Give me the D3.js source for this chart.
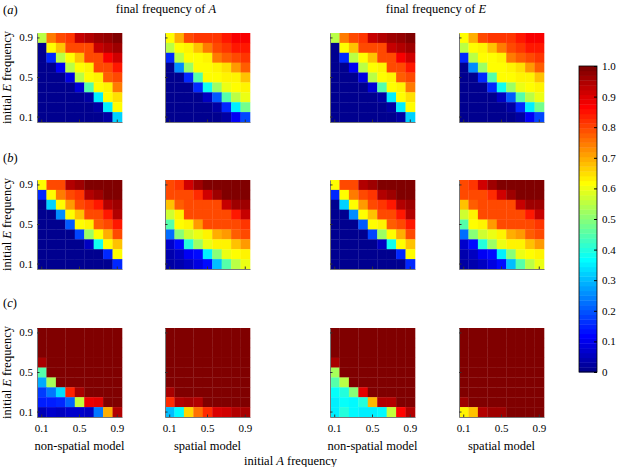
<!DOCTYPE html>
<html><head><meta charset="utf-8">
<script src="https://cdn.jsdelivr.net/npm/d3@7"></script>
<style>
body{margin:0;background:#fff}
svg{display:block}
text{font-family:"Liberation Serif","Times New Roman",serif;fill:#000}
</style>
</head><body>
<svg id="chart" width="626" height="467"></svg>
<script>
// ---------- data ----------
const freqs = ["0.1","0.2","0.3","0.4","0.5","0.6","0.7","0.8","0.9"];   // A (x) and E (y)
const tickLabels = ["0.1","0.5","0.9"];
const rowLetters = ["a","b","c"];
const columnTitles = ["non-spatial model","spatial model","non-spatial model","spatial model"];
const colorbarTicks = ["0","0.1","0.2","0.3","0.4","0.5","0.6","0.7","0.8","0.9","1.0"];

// each panel: rows from E = 0.9 (top) to E = 0.1 (bottom), columns A = 0.1 .. 0.9
const a1 = [
 [.55,.75,.80,.82,.93,.95,.97,.98,1],
 [0,.62,.68,.80,.80,.80,.93,.95,.97],
 [0,.15,.55,.62,.68,.80,.80,.88,.92],
 [0,0,.10,.55,.62,.63,.80,.80,.85],
 [0,0,0,.08,.55,.62,.63,.78,.80],
 [0,0,0,0,.07,.45,.62,.63,.75],
 [0,0,0,0,0,.02,.35,.62,.65],
 [0,0,0,0,0,0,.02,.35,.62],
 [0,0,0,0,0,0,0,.02,.32]];
const a2 = [
 [.62,.70,.80,.82,.82,.82,.85,.88,.88],
 [.55,.62,.63,.68,.75,.80,.82,.85,.85],
 [.15,.55,.62,.62,.63,.75,.78,.80,.82],
 [0,.25,.52,.62,.62,.63,.65,.72,.78],
 [0,0,.15,.45,.62,.62,.63,.63,.68],
 [0,0,0,.15,.38,.52,.60,.62,.63],
 [0,0,0,0,.05,.20,.45,.55,.60],
 [0,0,0,0,0,.02,.15,.35,.48],
 [0,0,0,0,0,0,.02,.10,.18]];
const a3 = [
 [.55,.75,.80,.82,.93,.95,.97,.98,1],
 [0,.62,.68,.80,.80,.80,.93,.95,.97],
 [0,.15,.55,.62,.68,.80,.80,.88,.92],
 [0,0,.10,.55,.62,.63,.80,.80,.85],
 [0,0,0,.08,.55,.62,.63,.78,.80],
 [0,0,0,0,.07,.45,.62,.63,.75],
 [0,0,0,0,0,.02,.35,.62,.65],
 [0,0,0,0,0,0,.02,.35,.62],
 [0,0,0,0,0,0,0,.02,.32]];
const a4 = [
 [.62,.70,.80,.82,.82,.82,.85,.88,.88],
 [.55,.62,.63,.68,.75,.80,.82,.85,.85],
 [.15,.55,.62,.62,.63,.75,.78,.80,.82],
 [0,.25,.52,.62,.62,.63,.65,.72,.78],
 [0,0,.15,.45,.62,.62,.63,.63,.68],
 [0,0,0,.15,.38,.52,.60,.62,.63],
 [0,0,0,0,.05,.20,.45,.55,.60],
 [0,0,0,0,0,.02,.15,.35,.48],
 [0,0,0,0,0,0,.02,.10,.18]];
const b1 = [
 [.62,.80,.80,.95,.97,1,1,1,1],
 [.15,.62,.75,.80,.82,.95,.97,1,1],
 [0,.32,.62,.72,.80,.82,.85,.95,.97],
 [0,0,.25,.62,.68,.80,.80,.85,.95],
 [0,0,0,.20,.62,.63,.78,.80,.85],
 [0,0,0,0,.18,.52,.62,.70,.80],
 [0,0,0,0,0,.05,.38,.62,.68],
 [0,0,0,0,0,0,0,.15,.62],
 [0,0,0,0,0,0,0,0,.15]];
const b2 = [
 [.80,.82,.92,.97,1,1,1,1,1],
 [.80,.80,.80,.83,.92,.97,1,1,1],
 [.68,.78,.80,.80,.80,.80,.93,.97,.97],
 [.57,.63,.80,.80,.80,.80,.80,.85,.93],
 [.45,.62,.63,.72,.80,.80,.80,.80,.82],
 [.22,.50,.57,.60,.63,.70,.72,.78,.80],
 [.06,.12,.40,.52,.60,.63,.63,.68,.72],
 [.03,.05,.10,.12,.35,.50,.60,.62,.63],
 [.02,.03,.05,.08,.12,.30,.45,.55,.60]];
const b3 = [
 [.62,.80,.80,.95,.97,1,1,1,1],
 [.15,.62,.75,.80,.82,.95,.97,1,1],
 [0,.32,.62,.72,.80,.82,.85,.95,.97],
 [0,0,.25,.62,.68,.80,.80,.85,.95],
 [0,0,0,.20,.62,.63,.78,.80,.85],
 [0,0,0,0,.18,.52,.62,.70,.80],
 [0,0,0,0,0,.05,.38,.62,.68],
 [0,0,0,0,0,0,0,.15,.62],
 [0,0,0,0,0,0,0,0,.15]];
const b4 = [
 [.80,.82,.92,.97,1,1,1,1,1],
 [.80,.80,.80,.83,.92,.97,1,1,1],
 [.68,.78,.80,.80,.80,.80,.93,.97,.97],
 [.57,.63,.80,.80,.80,.80,.80,.85,.93],
 [.45,.62,.63,.72,.80,.80,.80,.80,.82],
 [.22,.50,.57,.60,.63,.70,.72,.78,.80],
 [.06,.12,.40,.52,.60,.63,.63,.68,.72],
 [.03,.05,.10,.12,.35,.50,.60,.62,.63],
 [.02,.03,.05,.08,.12,.30,.45,.55,.60]];
const c1 = [
 [1,1,1,1,1,1,1,1,1],
 [1,1,1,1,1,1,1,1,1],
 [1,1,1,1,1,1,1,1,1],
 [.96,1,1,1,1,1,1,1,1],
 [.45,1,1,1,1,1,1,1,1],
 [.28,.53,1,1,1,1,1,1,1],
 [.17,.23,.33,.84,.96,1,1,1,1],
 [.14,.14,.15,.21,.56,.89,.90,1,1],
 [.04,.06,.05,.06,.06,.05,.23,.70,.95]];
const c2 = [
 [1,1,1,1,1,1,1,1,1],
 [1,1,1,1,1,1,1,1,1],
 [1,1,1,1,1,1,1,1,1],
 [1,1,1,1,1,1,1,1,1],
 [1,1,1,1,1,1,1,1,1],
 [1,1,1,1,1,1,1,1,1],
 [.96,1,1,1,1,1,1,1,1],
 [.83,.95,.96,.95,1,1,1,1,1],
 [.30,.36,.66,.76,.83,.91,.92,.95,.96]];
const c3 = [
 [1,1,1,1,1,1,1,1,1],
 [1,1,1,1,1,1,1,1,1],
 [1,1,1,1,1,1,1,1,1],
 [.96,1,1,1,1,1,1,1,1],
 [.53,1,1,1,1,1,1,1,1],
 [.45,.55,1,1,1,1,1,1,1],
 [.37,.40,.50,.90,1,1,1,1,1],
 [.35,.37,.36,.40,.69,.95,.95,1,1],
 [.35,.40,.36,.35,.35,.36,.56,.87,.95]];
const c4 = [
 [1,1,1,1,1,1,1,1,1],
 [1,1,1,1,1,1,1,1,1],
 [1,1,1,1,1,1,1,1,1],
 [1,1,1,1,1,1,1,1,1],
 [1,1,1,1,1,1,1,1,1],
 [1,1,1,1,1,1,1,1,1],
 [1,1,1,1,1,1,1,1,1],
 [.97,1,1,1,1,1,1,1,1],
 [.63,.68,.95,.97,.97,1,1,1,1]];

const panels = [[a1,a2,a3,a4],[b1,b2,b3,b4],[c1,c2,c3,c4]];

// ---------- layout ----------
const svg = d3.select("#chart");
const panelW = 85, panelH = 89;
const colLeft = [37, 165, 330, 459];
const rowTop = [33, 180, 328];
const letterY = [14, 162, 307];

const jet = d3.scaleLinear()
  .domain([0, 0.111, 0.365, 0.619, 0.873, 1])
  .range(["#00008f","#0000ff","#00ffff","#ffff00","#ff0000","#800000"])
  .clamp(true);

const x = d3.scaleBand().domain(freqs).range([0, panelW]);
const y = d3.scaleBand().domain(freqs.slice().reverse()).range([0, panelH]);

panels.forEach((row, ri) => {
  row.forEach((mat, ci) => {
    const g = svg.append("g").attr("transform", `translate(${colLeft[ci]},${rowTop[ri]})`);
    const cells = [];
    mat.forEach((vals, r) => vals.forEach((v, c) => cells.push({a: freqs[c], e: freqs[8 - r], v})));
    g.selectAll("rect").data(cells).join("rect")
      .attr("x", d => x(d.a)).attr("y", d => y(d.e))
      .attr("width", x.bandwidth() + 0.3).attr("height", y.bandwidth() + 0.3)
      .attr("fill", d => jet(d.v));

    const ax = d3.axisBottom(x).tickValues(tickLabels).tickSizeInner(-2.5).tickSizeOuter(0)
      .tickFormat(ri === 2 ? (d => d) : () => "");
    const gx = g.append("g").attr("transform", `translate(0,${panelH})`).call(ax);
    const ay = d3.axisLeft(y).tickValues(tickLabels).tickSizeInner(-2.5).tickSizeOuter(0)
      .tickFormat(ci === 0 ? (d => d) : () => "");
    const gy = g.append("g").call(ay);
    [gx, gy].forEach(a => {
      a.select(".domain").attr("stroke", "#777").attr("stroke-width", 1);
      a.selectAll(".tick line").attr("stroke", "#333");
      a.selectAll("text").style("font-family", '"Liberation Serif",serif').style("font-size", "11px").attr("fill", "#000");
    });
    gx.selectAll("text").attr("dy", "0.9em").attr("y", 5);
    gy.selectAll("text").attr("x", -4);

    if (ri === 2) {
      g.append("text").attr("x", panelW / 2).attr("y", panelH + 33)
        .attr("text-anchor", "middle").style("font-size", "12.5px").text(columnTitles[ci]);
    }
    if (ci === 0) {
      const lab = g.append("text").attr("transform", `translate(-26,${panelH / 2}) rotate(-90)`)
        .attr("text-anchor", "middle").style("font-size", "12.5px");
      lab.append("tspan").text("initial ");
      lab.append("tspan").style("font-style", "italic").text("E");
      lab.append("tspan").text(" frequency");
      const let_ = svg.append("text").attr("x", 3).attr("y", letterY[ri]).style("font-size", "12.5px");
      let_.append("tspan").text("(");
      let_.append("tspan").style("font-style", "italic").text(rowLetters[ri]);
      let_.append("tspan").text(")");
    }
  });
});

// titles
function title(cx, yy, letter) {
  const t = svg.append("text").attr("x", cx).attr("y", yy).attr("text-anchor", "middle").style("font-size", "12.5px");
  t.append("tspan").text("final frequency of ");
  t.append("tspan").style("font-style", "italic").text(letter);
}
title(166, 13, "A");
title(436, 13, "E");

const xl = svg.append("text").attr("x", (colLeft[0] + colLeft[3] + panelW) / 2).attr("y", 465)
  .attr("text-anchor", "middle").style("font-size", "12.5px");
xl.append("tspan").text("initial ");
xl.append("tspan").style("font-style", "italic").text("A");
xl.append("tspan").text(" frequency");

// colorbar
const cbX = 579, cbW = 18, cbTop = 66, cbBottom = 372;
const cy = d3.scaleLinear().domain([0, 1]).range([cbBottom, cbTop]);
const levels = d3.range(64).map(i => i / 63);
const lh = (cbBottom - cbTop) / 64;
svg.append("g").selectAll("rect").data(levels).join("rect")
  .attr("x", cbX).attr("width", cbW)
  .attr("y", (d, i) => cbBottom - (i + 1) * lh).attr("height", lh + 0.4)
  .attr("fill", d => jet(d));
svg.append("rect").attr("x", cbX).attr("y", cbTop).attr("width", cbW).attr("height", cbBottom - cbTop)
  .attr("fill", "none").attr("stroke", "#000").attr("stroke-width", 0.8);
const cax = d3.axisRight(cy).tickValues(colorbarTicks.map(Number)).tickSizeInner(-3).tickSizeOuter(0)
  .tickFormat((d, i) => colorbarTicks[i]);
const gc = svg.append("g").attr("transform", `translate(${cbX + cbW},0)`).call(cax);
gc.select(".domain").remove();
gc.selectAll(".tick line").attr("stroke", "#000");
gc.selectAll("text").attr("x", 5).style("font-family", '"Liberation Serif",serif').style("font-size", "11px");
</script>
</body></html>
